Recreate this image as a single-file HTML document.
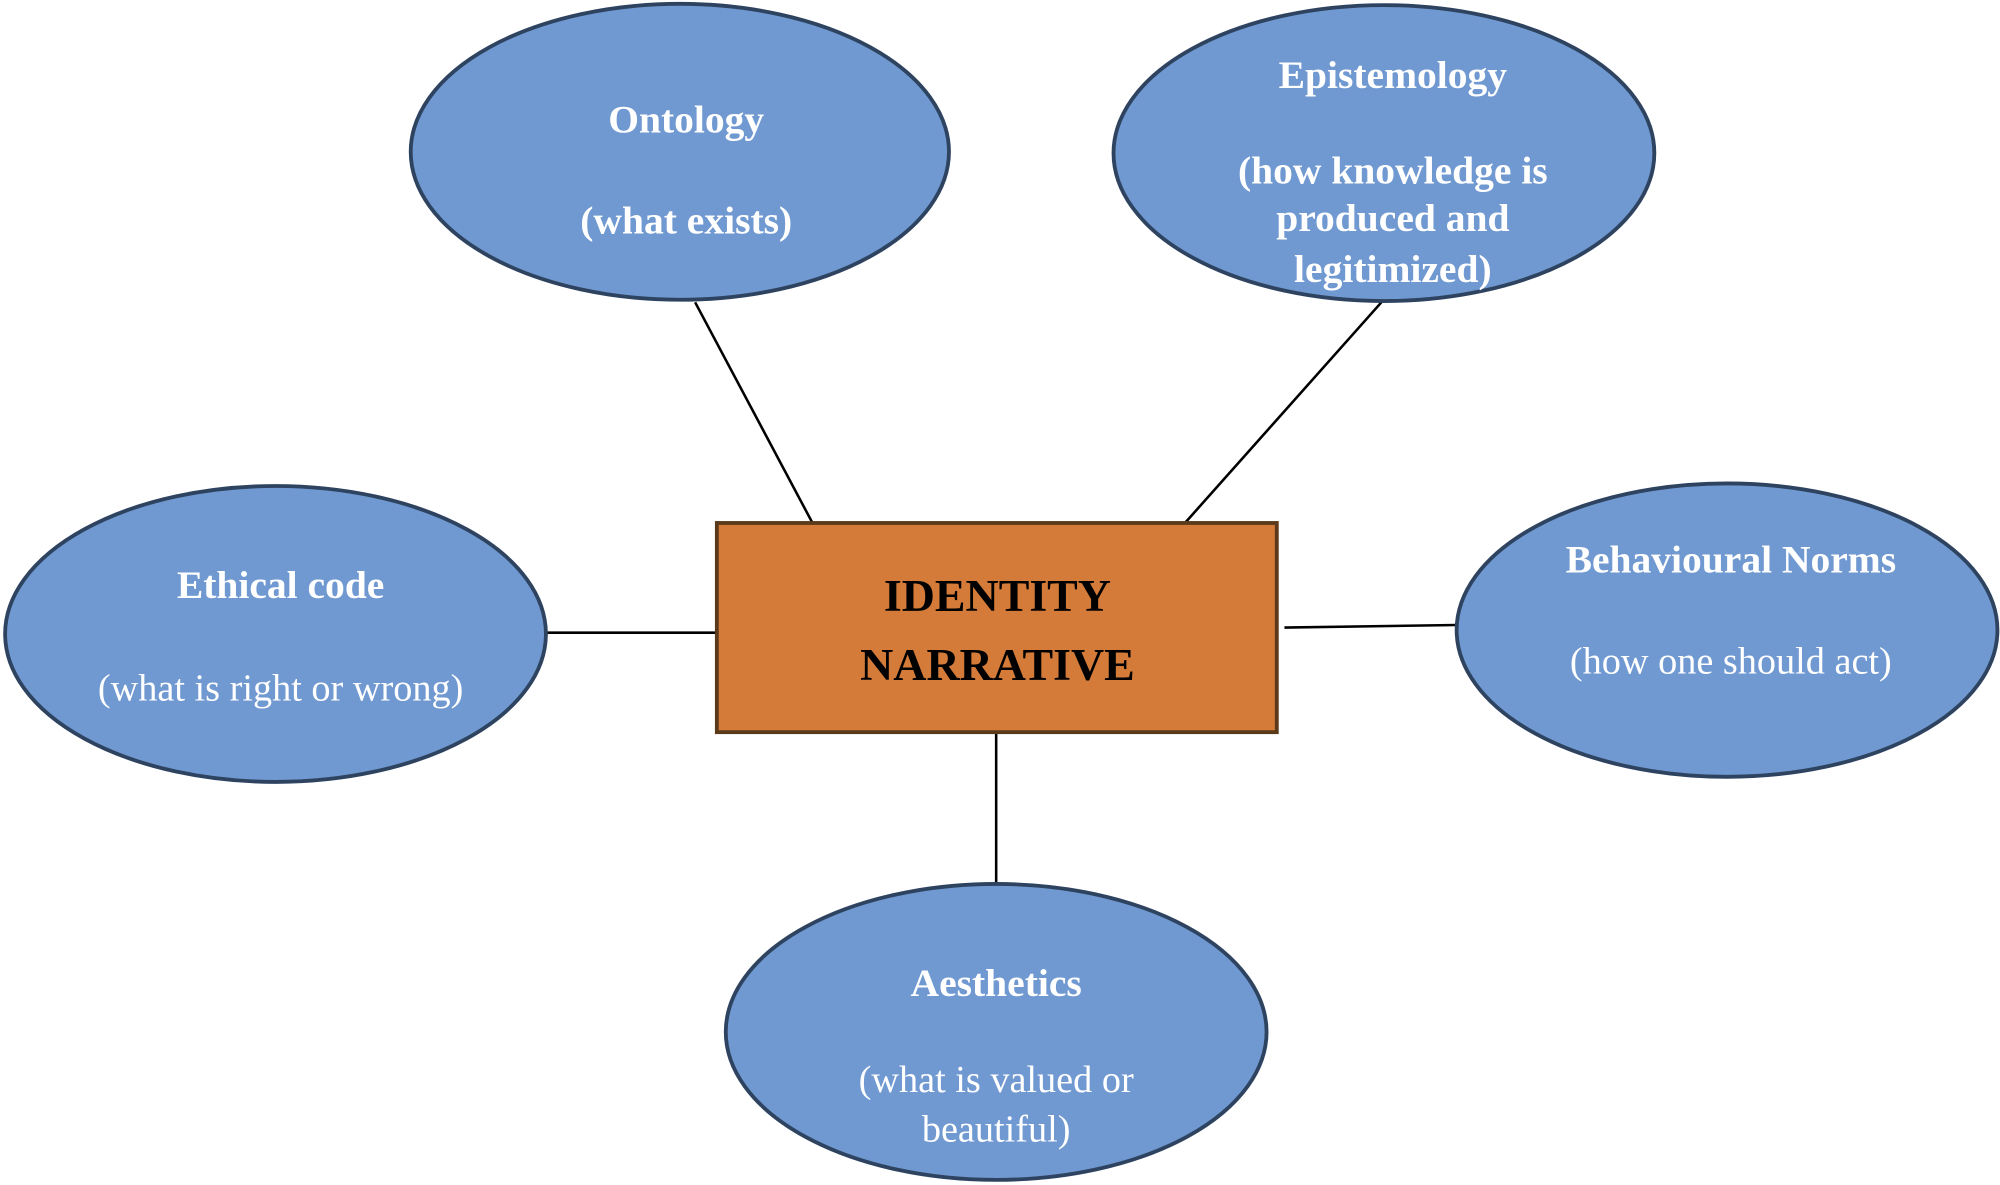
<!DOCTYPE html>
<html><head><meta charset="utf-8"><style>
html,body{margin:0;padding:0;background:#fff;}
svg{display:block;}
text{font-family:"Liberation Serif",serif;fill:#fff;text-anchor:middle;}
.b{font-weight:bold;}
</style></head><body>
<svg width="2000" height="1185" viewBox="0 0 1568 929" preserveAspectRatio="none" xmlns="http://www.w3.org/2000/svg">
<g stroke="#000" stroke-width="2">
<line x1="545" y1="237" x2="637" y2="410"/>
<line x1="1083" y1="237" x2="929" y2="410"/>
<line x1="428" y1="496" x2="565" y2="496"/>
<line x1="1007" y1="492" x2="1142" y2="490"/>
<line x1="781" y1="575" x2="781" y2="693"/>
</g>
<g fill="#7099D1" stroke="#2E4360" stroke-width="3">
<ellipse cx="533" cy="119" rx="211" ry="116"/>
<ellipse cx="1085" cy="120" rx="212" ry="116"/>
<ellipse cx="216" cy="497" rx="212" ry="116"/>
<ellipse cx="1354" cy="494" rx="212" ry="115"/>
<ellipse cx="781" cy="809" rx="212" ry="116"/>
</g>
<rect x="562" y="410" width="439" height="164" fill="#D47B39" stroke="#5a3a1a" stroke-width="3"/>
<text class="b" x="782" y="479" font-size="36" style="fill:#000">IDENTITY</text>
<text class="b" x="782" y="533" font-size="36" style="fill:#000">NARRATIVE</text>
<text class="b" x="538" y="104" font-size="31">Ontology</text>
<text class="b" x="538" y="183" font-size="31">(what exists)</text>
<text class="b" x="1092" y="69" font-size="31">Epistemology</text>
<text class="b" x="1092" y="144" font-size="31">(how knowledge is</text>
<text class="b" x="1092" y="181" font-size="31">produced and</text>
<text class="b" x="1092" y="221" font-size="31">legitimized)</text>
<text class="b" x="220" y="469" font-size="31">Ethical code</text>
<text x="220" y="549" font-size="30">(what is right or wrong)</text>
<text class="b" x="1357" y="449" font-size="31">Behavioural Norms</text>
<text x="1357" y="528" font-size="30">(how one should act)</text>
<text class="b" x="781" y="781" font-size="31">Aesthetics</text>
<text x="781" y="856" font-size="30">(what is valued or</text>
<text x="781" y="895" font-size="30">beautiful)</text>
</svg>
</body></html>
